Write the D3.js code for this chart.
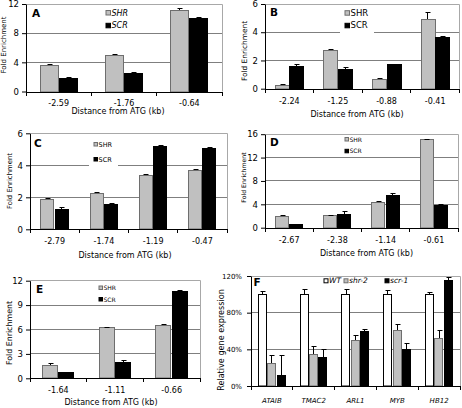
<!DOCTYPE html>
<html><head><meta charset="utf-8">
<script src="https://cdn.jsdelivr.net/npm/d3@7"></script>
<style>body{margin:0;background:#fff} svg{display:block;font-family:"DejaVu Sans",Verdana,sans-serif}</style>
</head><body><svg id="c" width="462" height="408"></svg>
<script>
// ---------- data ----------
const catsA = ["-2.59","-1.76","-0.64"];
const shrA = [3.7, 5.0, 11.2];      const shrErrA = [0.05, 0.04, 0.12];
const scrA = [1.8, 2.6, 10.1];      const scrErrA = [0.1, 0.05, 0.05];
const ticksA = [0, 4, 8, 12];

const catsB = ["-2.24","-1.25","-0.88","-0.41"];
const shrB = [0.28, 2.75, 0.7, 4.96]; const shrErrB = [0.02, 0.03, 0.02, 0.45];
const scrB = [1.58, 1.41, 1.72, 3.66]; const scrErrB = [0.15, 0.08, 0.02, 0.02];
const ticksB = [0, 2, 4, 6];

const catsC = ["-2.79","-1.74","-1.19","-0.47"];
const shrC = [1.88, 2.25, 3.38, 3.7]; const shrErrC = [0.06, 0.04, 0.04, 0.05];
const scrC = [1.3, 1.58, 5.2, 5.1];   const scrErrC = [0.05, 0.06, 0.03, 0.02];
const ticksC = [0, 2, 4, 6];

const catsD = ["-2.67","-2.38","-1.14","-0.61"];
const shrD = [2.0, 2.1, 4.4, 15.1];   const shrErrD = [0.1, 0.05, 0.05, 0.05];
const scrD = [0.58, 2.35, 5.55, 3.93]; const scrErrD = [0.05, 0.45, 0.25, 0.05];
const ticksD = [0, 4, 8, 12, 16];

const catsE = ["-1.64","-1.11","-0.66"];
const shrE = [1.6, 6.25, 6.55];   const shrErrE = [0.18, 0.05, 0.05];
const scrE = [0.74, 2.05, 10.77]; const scrErrE = [0.03, 0.15, 0.03];
const ticksE = [0, 3, 6, 9, 12];

const genesF = ["ATAIB","TMAC2","ARL1","MYB","HB12"];
const wtF  = [100, 100, 100, 100, 100];  const wtErrF  = [3, 5.5, 5.5, 4.4, 2];
const shr2F = [24.7, 34.5, 49.8, 61.5, 52]; const shr2ErrF = [9, 9, 5.5, 6, 8.5];
const scr1F = [11.6, 31.3, 59.6, 40, 115.6]; const scr1ErrF = [22, 9, 2, 6, 3];
const ticksF = [0, 40, 80, 120];

const seriesNames = ["SHR","SCR"];
const seriesNamesF = ["WT","shr-2","scr-1"];
const xTitle = "Distance from ATG (kb)";
const yTitle = "Fold Enrichment";
const yTitleF = "Relative gene expression";

// ---------- drawing ----------
const svg = d3.select("#c");
const GRAY = "#c0c0c0";
const crisp = v => Math.round(v - 0.5) + 0.5;

function panel(p) {
  const g = svg.append("g");
  const x = d3.scaleBand().domain(p.cats).range([p.x0, p.x1]);
  const y = d3.scaleLinear().domain([0, p.max]).range([p.yBot, p.yTop]);

  // gridlines
  g.selectAll("line.grid").data(p.ticks.filter(t => t > 0 && t < p.max)).join("line")
    .attr("x1", p.x0).attr("x2", p.x1)
    .attr("y1", d => crisp(y(d))).attr("y2", d => crisp(y(d)))
    .attr("stroke", "#7f7f7f").attr("stroke-width", 1);
  // plot border (top/right)
  g.append("path")
    .attr("d", `M${p.x0},${crisp(y(p.max))}H${crisp(p.x1)}V${p.yBot}`)
    .attr("fill", "none").attr("stroke", "#a8a8a8");

  // legend background
  if (p.legBg) g.append("rect").attr("x", p.legBg[0]).attr("y", p.legBg[1])
    .attr("width", p.legBg[2]).attr("height", p.legBg[3]).attr("fill", "#fff");

  // bars
  const bw = x.bandwidth() * p.frac;
  const inner = d3.scaleBand().domain(p.series.map(s => s.name)).range([0, bw]);
  p.series.forEach(s => {
    const data = p.cats.map((c, i) => ({c, v: s.values[i], e: s.errs[i]}));
    const bx = d => x(d.c) + (x.bandwidth() - bw) / 2 + inner(s.name);
    g.selectAll(null).data(data).join("rect")
      .attr("x", d => Math.round(bx(d)) + 0.5)
      .attr("y", d => Math.round(y(d.v)) + 0.5)
      .attr("width", Math.round(inner.bandwidth()) - 1)
      .attr("height", d => Math.max(0, Math.round(p.yBot) - Math.round(y(d.v)) - 0.5))
      .attr("fill", s.fill).attr("stroke", s.stroke).attr("stroke-width", 1);
    // error bars (upper half)
    const cx = d => crisp(bx(d) + inner.bandwidth() / 2);
    g.selectAll(null).data(data).join("path")
      .attr("d", d => `M${cx(d)},${Math.round(y(d.v))}V${crisp(y(d.v + d.e))}M${cx(d) - p.cap},${crisp(y(d.v + d.e))}H${cx(d) + p.cap + 1}`)
      .attr("stroke", "#000").attr("fill", "none").attr("stroke-width", 1);
  });

  // y axis
  const ya = d3.axisLeft(y).tickValues(p.ticks).tickSize(4).tickSizeOuter(0)
    .tickPadding(p.yPad || 3).tickFormat(p.fmt || d3.format("d"));
  const yg = g.append("g").attr("transform", `translate(${Math.round(p.x0)},0)`).call(ya);
  yg.attr("font-family", null).attr("font-size", null);
  yg.selectAll("text").attr("font-size", p.yFont || 8.5).attr("fill", "#000");
  yg.selectAll("line,path").attr("stroke", "#000");

  // x axis
  const xa = d3.axisBottom(x).tickSize(0).tickSizeOuter(0);
  const xg = g.append("g").attr("transform", `translate(0,${Math.round(p.yBot)})`).call(xa);
  xg.attr("font-family", null).attr("font-size", null);
  xg.select(".domain").attr("stroke", "#000");
  xg.selectAll("text").attr("y", p.lblDy).attr("dy", 0)
    .attr("font-size", p.xFont || 8).attr("fill", "#000")
    .attr("font-style", p.xItalic ? "italic" : null);
  const bounds = p.cats.map(c => x(c)).concat([p.x1]);
  xg.selectAll("line.bt").data(bounds).join("line")
    .attr("x1", d => crisp(d)).attr("x2", d => crisp(d))
    .attr("y1", 0).attr("y2", 4).attr("stroke", "#000");

  // titles
  if (p.xTitle) g.append("text").attr("x", p.xTitle[0]).attr("y", p.xTitle[1])
    .attr("text-anchor", "middle").attr("font-size", 8).text(xTitle);
  g.append("text")
    .attr("transform", `translate(${p.yTitle[0]},${p.yTitle[1]}) rotate(-90)`)
    .attr("text-anchor", "middle").attr("dy", "0.35em")
    .attr("font-size", p.yTitle[2]).text(p.yTitleText || yTitle);
  // panel letter
  g.append("text").attr("x", p.letter[1]).attr("y", p.letter[2])
    .attr("font-weight", "bold").attr("font-size", 10.5).text(p.letter[0]);

  // legend
  p.legend.items.forEach((it, i) => {
    const lx = p.legend.x[i], ly = p.legend.y[i];
    const bs = p.legend.box;
    g.append("rect").attr("x", lx + 0.5).attr("y", ly - bs - 0.5)
      .attr("width", bs).attr("height", bs)
      .attr("fill", it.fill).attr("stroke", it.stroke);
    g.append("text").attr("x", lx + bs + 1.5).attr("y", ly)
      .attr("font-size", p.legend.font)
      .attr("font-style", p.legend.italic ? "italic" : null)
      .text(it.name);
  });
}

function twoSeries(shr, shrErr, scr, scrErr) {
  return [
    {name: seriesNames[0], values: shr, errs: shrErr, fill: GRAY, stroke: "#6e6e6e"},
    {name: seriesNames[1], values: scr, errs: scrErr, fill: "#000", stroke: "#000"}
  ];
}
const legItems = [{name: seriesNames[0], fill: GRAY, stroke: "#6e6e6e"},
                  {name: seriesNames[1], fill: "#000", stroke: "#000"}];

panel({cats: catsA, series: twoSeries(shrA, shrErrA, scrA, scrErrA), ticks: ticksA, max: 12,
  x0: 26, x1: 222, yTop: 4, yBot: 91.5, frac: 0.58, cap: 2, lblDy: 13.5,
  xTitle: [118, 113.5], yTitle: [4, 45, 7], letter: ["A", 32, 16.7],
  legend: {items: legItems, x: [105.5, 105.5], y: [15.5, 28.3], box: 4.5, font: 8, italic: true}});

panel({cats: catsB, series: twoSeries(shrB, shrErrB, scrB, scrErrB), ticks: ticksB, max: 6,
  x0: 265, x1: 459.5, yTop: 4, yBot: 88.7, frac: 0.6, cap: 2, lblDy: 15,
  xTitle: [357, 116.5], yTitle: [244.3, 51, 7.4], letter: ["B", 270, 15.7],
  legBg: [340, 5, 34, 28],
  legend: {items: legItems, x: [344.5, 344.5], y: [15.7, 28.3], box: 4.5, font: 8.5, italic: false}});

panel({cats: catsC, series: twoSeries(shrC, shrErrC, scrC, scrErrC), ticks: ticksC, max: 6,
  x0: 30, x1: 227, yTop: 133.3, yBot: 229.3, frac: 0.58, cap: 2, lblDy: 15.2,
  xTitle: [125, 257.5], yTitle: [10, 181, 6.9], letter: ["C", 34, 146.7],
  legBg: [89, 137, 29, 30],
  legend: {items: legItems, x: [93.5, 93.5], y: [146.5, 161.5], box: 3.5, font: 6.5, italic: false}});

panel({cats: catsD, series: twoSeries(shrD, shrErrD, scrD, scrErrD), ticks: ticksD, max: 16,
  x0: 265, x1: 458, yTop: 134.2, yBot: 227.7, frac: 0.59, cap: 2, lblDy: 15,
  xTitle: [366.5, 256], yTitle: [244.3, 177.5, 6.2], letter: ["D", 270, 145.7],
  legend: {items: legItems, x: [344.5, 344.5], y: [141.5, 153.3], box: 3.5, font: 6, italic: false}});

panel({cats: catsE, series: twoSeries(shrE, shrErrE, scrE, scrErrE), ticks: ticksE, max: 12,
  x0: 30, x1: 200, yTop: 280.7, yBot: 378.3, frac: 0.58, cap: 2, lblDy: 15,
  xTitle: [111, 405], yTitle: [8.8, 333, 7.9], letter: ["E", 36, 293.3],
  legend: {items: legItems, x: [98.5, 98.5], y: [290, 301.5], box: 3.5, font: 6, italic: false}});

panel({cats: genesF, ticks: ticksF, max: 120,
  series: [
    {name: seriesNamesF[0], values: wtF, errs: wtErrF, fill: "#fff", stroke: "#000"},
    {name: seriesNamesF[1], values: shr2F, errs: shr2ErrF, fill: GRAY, stroke: "#6e6e6e"},
    {name: seriesNamesF[2], values: scr1F, errs: scr1ErrF, fill: "#000", stroke: "#000"}],
  x0: 251, x1: 460, yTop: 276, yBot: 386, frac: 0.67, cap: 2, lblDy: 17, xItalic: true, xFont: 7,
  fmt: d => d + "%", yFont: 7, yPad: 5,
  yTitle: [221, 340, 8.1], yTitleText: yTitleF, letter: ["F", 253.5, 285.7],
  legend: {items: [{name: seriesNamesF[0], fill: "#fff", stroke: "#000"},
                   {name: seriesNamesF[1], fill: GRAY, stroke: "#6e6e6e"},
                   {name: seriesNamesF[2], fill: "#000", stroke: "#000"}],
           x: [323.5, 343.5, 384.5], y: [283.3, 283.3, 283.3], box: 4, font: 7.5, italic: true}});
</script>
</body></html>
